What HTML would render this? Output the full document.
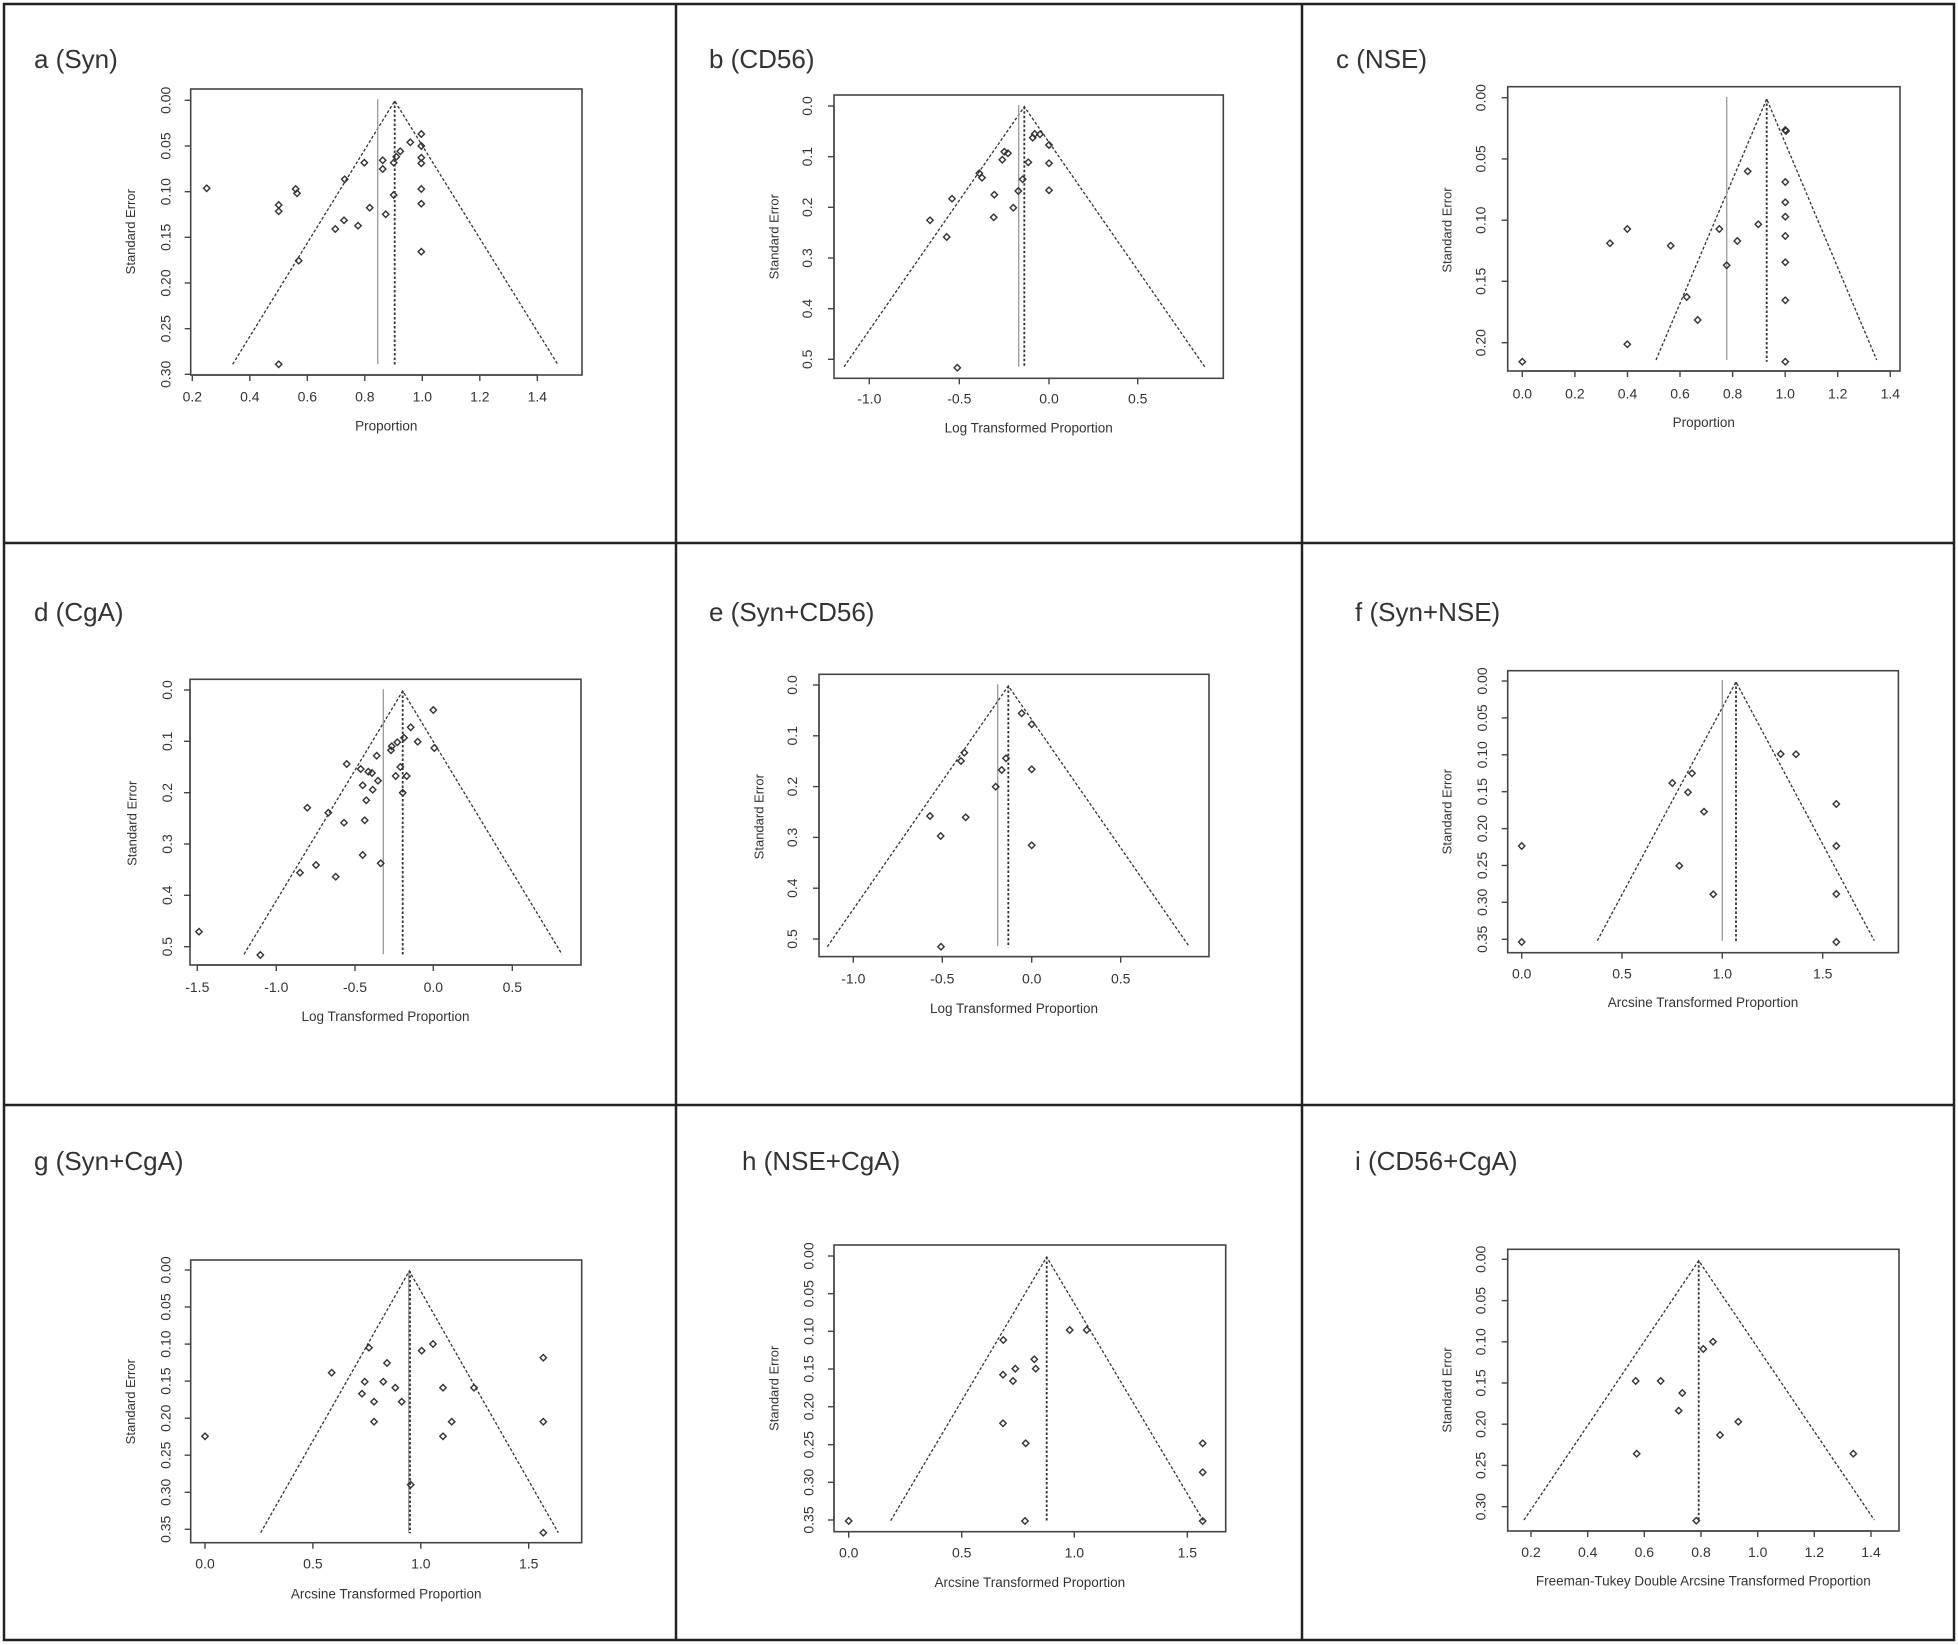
<!DOCTYPE html>
<html><head><meta charset="utf-8"><style>
html,body{margin:0;padding:0;background:#fff}
svg{display:block}
text{font-family:"Liberation Sans",Arial,sans-serif;fill:#333}
</style></head><body>
<svg id="s" xmlns="http://www.w3.org/2000/svg" width="1958" height="1645" viewBox="0 0 1958 1645">
<rect x="0" y="0" width="1958" height="1645" fill="#fff"/>
<g stroke="#222" stroke-width="2.5" fill="none">
<rect x="4" y="4" width="1950" height="1636"/>
<line x1="676" y1="4" x2="676" y2="1640"/>
<line x1="1302" y1="4" x2="1302" y2="1640"/>
<line x1="4" y1="543" x2="1954" y2="543"/>
<line x1="4" y1="1105" x2="1954" y2="1105"/>
</g>
<g font-size="26">
<text x="34" y="68">a (Syn)</text>
<text x="709" y="68">b (CD56)</text>
<text x="1336" y="68">c (NSE)</text>
<text x="34" y="621">d (CgA)</text>
<text x="709" y="621">e (Syn+CD56)</text>
<text x="1355" y="621">f (Syn+NSE)</text>
<text x="34" y="1170">g (Syn+CgA)</text>
<text x="742" y="1170">h (NSE+CgA)</text>
<text x="1355" y="1170">i (CD56+CgA)</text>
</g>
<g id="plots"></g>
</svg>
<script>
var P=[
{o:[120,75],box:[212,42,1386,900],xt:[[217,"0.2"],[389.5,"0.4"],[562,"0.6"],[734.5,"0.8"],[907,"1.0"],[1079.5,"1.2"],[1252,"1.4"]],
 yt:[[76,"0.00"],[213,"0.05"],[350,"0.10"],[487,"0.15"],[624,"0.20"],[761,"0.25"],[898,"0.30"]],
 apex:[824,78],base:[868,338,1313],solid:[773,73,868],dot:[824,78,872],
 xl:968,title:"Proportion",tl:1055,yl:140,ytx:35,yty:470,
 pts:[[260,340],[476,390],[476,409],[527,342],[531,355],[536,557],[646,462],[672,436],[674,313],[714,452],[733,263],[749,398],[788,256],[788,282],[797,418],[821,263],[821,360],[829,245],[841,229],[871,202],[904,177],[904,213],[904,248],[904,265],[904,342],[904,386],[904,530],[476,868]]},
{o:[740,75],box:[282,60,1450,910],xt:[[388,"-1.0"],[658,"-0.5"],[927,"0.0"],[1193,"0.5"]],
 yt:[[93,"0.0"],[245,"0.1"],[397,"0.2"],[549,"0.3"],[701,"0.4"],[853,"0.5"]],
 apex:[853,95],base:[875,312,1394],solid:[836,90,875],dot:[853,95,878],
 xl:975,title:"Log Transformed Proportion",tl:1062,yl:205,ytx:105,yty:485,
 pts:[[570,436],[620,486],[636,371],[652,878],[718,295],[726,308],[763,359],[761,427],[787,254],[793,230],[804,235],[820,398],[835,348],[848,313],[865,262],[878,188],[884,177],[900,178],[927,210],[927,265],[927,346]]},
{o:[1420,75],box:[263,35,1440,888],xt:[[307,"0.0"],[464.7,"0.2"],[622.4,"0.4"],[780,"0.6"],[937.8,"0.8"],[1095.5,"1.0"],[1253,"1.2"],[1411,"1.4"]],
 yt:[[68,"0.00"],[251.75,"0.05"],[435.5,"0.10"],[619,"0.15"],[803,"0.20"]],
 apex:[1040,72],base:[855,708,1370],solid:[920,66,855],dot:[1040,72,860],
 xl:960,title:"Proportion",tl:1045,yl:185,ytx:85,yty:465,
 pts:[[307,860],[570,505],[622,462],[622,808],[752,512],[800,666],[833,735],[898,462],[920,571],[952,498],[983,289],[1015,448],[1096,165],[1098,168],[1096,321],[1096,382],[1096,425],[1096,483],[1096,562],[1096,676],[1096,860]]},
{o:[120,660],box:[210,58,1383,915],xt:[[232,"-1.5"],[469,"-1.0"],[705,"-0.5"],[940,"0.0"],[1177,"0.5"]],
 yt:[[90,"0.0"],[244,"0.1"],[398,"0.2"],[552,"0.3"],[706,"0.4"],[860,"0.5"]],
 apex:[848,93],base:[883,372,1326],solid:[790,88,883],dot:[848,93,887],
 xl:985,title:"Log Transformed Proportion",tl:1072,yl:145,ytx:40,yty:490,
 pts:[[940,150],[872,202],[893,245],[852,233],[832,247],[815,259],[813,271],[943,264],[770,287],[680,312],[722,327],[745,335],[756,339],[841,321],[827,348],[860,348],[728,376],[774,362],[758,389],[848,398],[739,421],[562,443],[625,458],[672,488],[734,481],[728,585],[782,610],[588,615],[540,638],[647,650],[237,815],[421,885]]},
{o:[740,660],box:[237,43,1407,890],xt:[[340,"-1.0"],[607,"-0.5"],[875,"0.0"],[1142,"0.5"]],
 yt:[[75,"0.0"],[227.4,"0.1"],[379.8,"0.2"],[532.2,"0.3"],[684.6,"0.4"],[837,"0.5"]],
 apex:[805,78],base:[860,262,1348],solid:[773,73,858],dot:[805,78,862],
 xl:960,title:"Log Transformed Proportion",tl:1048,yl:160,ytx:60,yty:470,
 pts:[[845,160],[875,193],[673,278],[663,303],[798,295],[785,330],[875,328],[767,380],[570,468],[677,472],[602,528],[875,556],[603,860]]},
{o:[1420,660],box:[263,32,1435,878],xt:[[305,"0.0"],[606,"0.5"],[907,"1.0"],[1208,"1.5"]],
 yt:[[63,"0.00"],[173.7,"0.05"],[284.4,"0.10"],[395,"0.15"],[505.8,"0.20"],[616.5,"0.25"],[727,"0.30"],[838,"0.35"]],
 apex:[948,66],base:[842,532,1363],solid:[907,60,842],dot:[948,66,848],
 xl:945,title:"Arcsine Transformed Proportion",tl:1030,yl:190,ytx:85,yty:455,
 pts:[[1082,282],[1128,283],[816,340],[757,369],[804,397],[1249,432],[852,455],[305,558],[1249,558],[778,617],[880,703],[1249,702],[305,846],[1249,846]]},
{o:[120,1240],box:[212,60,1385,908],xt:[[255,"0.0"],[578.7,"0.5"],[902.3,"1.0"],[1226,"1.5"]],
 yt:[[90,"0.00"],[201,"0.05"],[312.3,"0.10"],[423.4,"0.15"],[534.6,"0.20"],[645.7,"0.25"],[757,"0.30"],[868,"0.35"]],
 apex:[868,93],base:[878,422,1315],solid:[866,93,878],dot:[870,93,880],
 xl:975,title:"Arcsine Transformed Proportion",tl:1065,yl:140,ytx:35,yty:485,
 pts:[[747,323],[635,398],[801,369],[734,425],[790,425],[826,443],[726,461],[762,485],[845,485],[762,545],[255,589],[905,332],[939,312],[969,443],[1062,443],[995,545],[969,589],[872,734],[1270,353],[1270,545],[1270,878]]},
{o:[760,1230],box:[222,45,1397,905],xt:[[266,"0.0"],[605,"0.5"],[943,"1.0"],[1282,"1.5"]],
 yt:[[78,"0.00"],[191,"0.05"],[304,"0.10"],[417,"0.15"],[530,"0.20"],[644,"0.25"],[757,"0.30"],[870,"0.35"]],
 apex:[860,81],base:[872,392,1330],solid:null,dot:[860,81,874],
 xl:972,title:"Arcsine Transformed Proportion",tl:1060,yl:150,ytx:45,yty:475,
 pts:[[730,330],[929,300],[980,300],[823,388],[766,416],[827,416],[729,434],[759,453],[729,580],[797,640],[1328,640],[1328,727],[266,873],[795,873],[1328,873]]},
{o:[1420,1240],box:[263,28,1437,873],xt:[[333,"0.2"],[503,"0.4"],[673,"0.6"],[843,"0.8"],[1013,"1.0"],[1183,"1.2"],[1353,"1.4"]],
 yt:[[58,"0.00"],[181.7,"0.05"],[305.3,"0.10"],[429,"0.15"],[552.7,"0.20"],[676.3,"0.25"],[800,"0.30"]],
 apex:[836,62],base:[840,312,1363],solid:null,dot:[836,62,842],
 xl:940,title:"Freeman-Tukey Double Arcsine Transformed Proportion",tl:1025,yl:185,ytx:85,yty:450,
 pts:[[879,305],[850,327],[647,423],[722,423],[787,459],[776,512],[955,545],[900,585],[650,641],[1300,641],[829,842]]}
];
var h="";
P.forEach(function(p){
 var X=function(z){return (p.o[0]+z/3).toFixed(1)},Y=function(z){return (p.o[1]+z/3).toFixed(1)};
 var b=p.box;
 h+='<rect x="'+X(b[0])+'" y="'+Y(b[1])+'" width="'+((b[2]-b[0])/3).toFixed(1)+'" height="'+((b[3]-b[1])/3).toFixed(1)+'" fill="none" stroke="#444" stroke-width="1.6"/>';
 // x axis
 var xa=p.xt, bx=+Y(b[3]);
 h+='<line x1="'+X(xa[0][0])+'" y1="'+bx+'" x2="'+X(xa[xa.length-1][0])+'" y2="'+bx+'" stroke="#444" stroke-width="1.4"/>';
 xa.forEach(function(t){h+='<line x1="'+X(t[0])+'" y1="'+bx+'" x2="'+X(t[0])+'" y2="'+(bx+6)+'" stroke="#444" stroke-width="1.4"/><text x="'+X(t[0])+'" y="'+Y(p.xl)+'" font-size="14" text-anchor="middle" dominant-baseline="middle">'+t[1]+'</text>';});
 h+='<text x="'+X((b[0]+b[2])/2)+'" y="'+Y(p.tl)+'" font-size="13.5" text-anchor="middle" dominant-baseline="middle">'+p.title+'</text>';
 // y axis
 var ya=p.yt, lx=+X(b[0]);
 h+='<line x1="'+lx+'" y1="'+Y(ya[0][0])+'" x2="'+lx+'" y2="'+Y(ya[ya.length-1][0])+'" stroke="#444" stroke-width="1.4"/>';
 ya.forEach(function(t){var yy=Y(t[0]);h+='<line x1="'+(lx-6)+'" y1="'+yy+'" x2="'+lx+'" y2="'+yy+'" stroke="#444" stroke-width="1.4"/><text transform="translate('+X(p.yl)+','+yy+') rotate(-90)" font-size="14" text-anchor="middle" dominant-baseline="middle">'+t[1]+'</text>';});
 h+='<text transform="translate('+X(p.ytx)+','+Y(p.yty)+') rotate(-90)" font-size="13" text-anchor="middle" dominant-baseline="middle">Standard Error</text>';
 // funnel
 h+='<polyline points="'+X(p.base[1])+','+Y(p.base[0])+' '+X(p.apex[0])+','+Y(p.apex[1])+' '+X(p.base[2])+','+Y(p.base[0])+'" fill="none" stroke="#333" stroke-width="1.3" stroke-dasharray="3,2"/>';
 if(p.solid)h+='<line x1="'+X(p.solid[0])+'" y1="'+Y(p.solid[1])+'" x2="'+X(p.solid[0])+'" y2="'+Y(p.solid[2])+'" stroke="#999" stroke-width="1.3"/>';
 h+='<line x1="'+X(p.dot[0])+'" y1="'+Y(p.dot[1])+'" x2="'+X(p.dot[0])+'" y2="'+Y(p.dot[2])+'" stroke="#333" stroke-width="1.8" stroke-dasharray="2.5,2"/>';
 p.pts.forEach(function(q){var cx=+X(q[0]),cy=+Y(q[1]);h+='<path d="M'+(cx-3.2)+' '+cy+'L'+cx+' '+(cy-3.2)+'L'+(cx+3.2)+' '+cy+'L'+cx+' '+(cy+3.2)+'Z" fill="none" stroke="#333" stroke-width="1.4"/>';});
});
document.getElementById("plots").innerHTML=h;
</script>
</body></html>
